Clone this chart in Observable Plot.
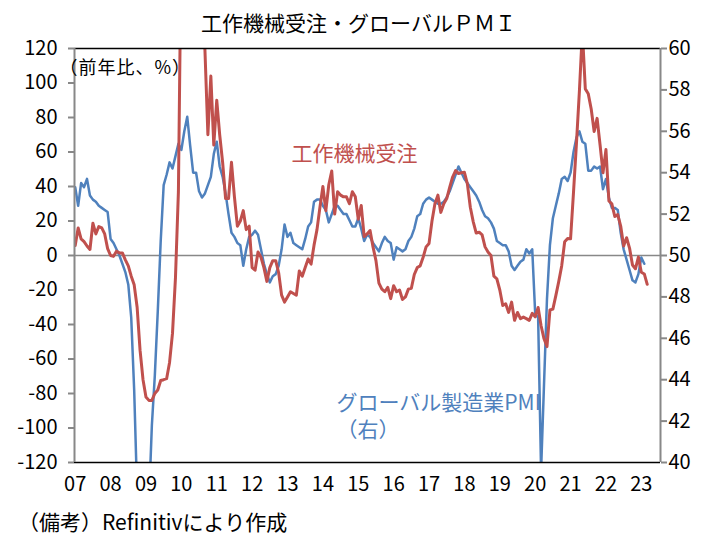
<!DOCTYPE html>
<html>
<head>
<meta charset="utf-8">
<script src="https://cdn.jsdelivr.net/npm/d3@7"></script>
<script src="https://cdn.jsdelivr.net/npm/@observablehq/plot@0.6"></script>
<style>
  body { margin: 0; background: #fff; }
  #wrap { width: 717px; height: 547px; position: relative; overflow: hidden;
          font-family: "Liberation Sans Narrow", "Noto Sans CJK JP", sans-serif; color: #000; }
  #title { height: 27px; padding-top: 9px; line-height: 27px; text-align: center;
           font-family: "Noto Sans CJK JP", sans-serif; font-size: 21px; }
  #chart svg { display: block; }
  #caption { height: 26px; line-height: 26px; padding-left: 18px; font-size: 21px; }
  .unit-label text { letter-spacing: 1px; }
</style>
</head>
<body>
<div id="wrap">
  <div id="title">工作機械受注・グローバルＰＭＩ</div>
  <div id="chart"></div>
  <div id="caption">（備考）Refinitivにより作成</div>
</div>
<script>
// ---- data (monthly, from Jan 2007) ----
const yearLabels = ["07","08","09","10","11","12","13","14","15","16","17","18","19","20","21","22","23"];

// 工作機械受注 前年比 (%), left axis
const machineToolOrders = [
  5.8, 16, 9.6, 8, 5.5, 3.5, 18.7, 12.5, 16.8, 16, 12.5, 4,
  0, -0.5, 2.5, 1.5, 1.5, -2.5, -6, -12, -17, -30, -55, -72,
  -82, -84, -84, -80, -78, -72.5, -72, -71.4, -62, -45, -13, 37,
  190, 185, 290, 420, 280, 170, 160, 150, 119, 70, 104, 64,
  90, 70, 54, 33, 33, 54, 34, 17, 20, 26, 15, 17,
  -7, -8.5, 2, -1, -7, -15, -7, -3, -3, -10, -23, -27,
  -24, -21, -22, -23, -9, -12, -7, -2, -5, 6, 15, 28,
  40, 26, 41, 49, 24, 37, 35, 34, 34, 30, 37, 34,
  21, 29, 11, 12.5, 14.5, 5, -3, -16, -19.5, -21, -18.5, -25,
  -17.5, -21, -20, -25.5, -24, -19.5, -19, -11, -7, -6, -1, 5,
  7, 20, 30, 35, 25, 30, 33, 39.5, 45.5, 49.2, 47.5, 48,
  48.2, 41.5, 28, 19.5, 13, 13.5, 12, 5, 2, 0, -12, -13.5,
  -20, -29, -28, -33, -27, -37.6, -33, -36.6, -35.7, -36.6, -37.6, -33.5,
  -35.6, -30.1, -40.7, -48.3, -52.8, -31.6, -31.1, -23.3, -15.0, -5.9, 8.0, 9.9,
  9.7, 36.7, 65.1, 95.4, 130.0, 96.6, 93.8, 84.9, 71.9, 79.5, 64.2, 48,
  61.4, 31.6, 29.9, 22.6, 23.7, 17.1, 5.5, 10.3, 4.3, -5.5, -7.7, -0.9,
  -9.7, -10.7, -16.7
];

// グローバル製造業PMI, right axis
const globalPMI = [
  53.3, 52.4, 53.5, 53.3, 53.7, 52.9, 52.7, 52.6, 52.4, 52.3, 52.2, 52.1,
  50.8, 50.6, 50.3, 50.0, 49.6, 49.2, 48.6, 47.0, 43.5, 38.5, 35.0, 33.0,
  34.0, 38.0, 41.8, 44.2, 47.3, 50.7, 53.4, 53.9, 54.5, 54.2, 54.8, 55.4,
  55.1, 56.0, 56.7, 55.3, 54.0, 54.0, 53.1, 52.8, 53.0, 53.4, 53.8, 54.9,
  55.5, 54.3, 53.8, 53.0, 52.0, 51.1, 50.9, 50.6, 50.5, 49.5, 50.3, 50.9,
  51.0, 51.2, 51.0, 50.3, 49.6, 49.1, 48.7, 49.0, 49.1, 49.5, 50.3, 51.5,
  50.9, 51.1, 50.6, 50.5, 50.4, 50.3, 50.8, 51.4, 51.6, 52.6, 52.7, 52.7,
  52.4, 52.2, 51.6, 52.0, 52.4, 52.4, 52.2, 52.0, 52.0, 51.7, 51.4, 51.4,
  51.8, 51.3, 50.7, 51.0, 50.9, 50.6, 50.4, 50.2, 50.6, 50.9, 50.7, 50.6,
  49.8, 50.4, 50.3, 50.2, 50.3, 50.7, 50.9, 51.3, 51.9, 52.0, 52.5, 52.7,
  52.8, 52.7, 52.6, 52.5, 52.5, 52.6, 52.8, 53.1, 53.5, 53.9, 54.3, 54.0,
  53.7, 53.5, 53.3, 53.1, 52.9, 52.6, 52.2, 51.9, 51.8, 51.6, 51.3, 50.7,
  50.6, 50.5, 50.5, 50.2, 49.5, 49.3, 49.5, 49.7, 49.8, 50.3, 50.1, 50.3,
  47.2, 47.0, 39.6, 43.8, 47.9, 50.5, 51.8, 52.4, 53.0, 53.7, 53.8, 53.6,
  54.0, 55.0, 55.7, 56.0, 55.5, 55.4, 54.1, 54.1, 54.3, 54.2, 54.3, 53.2,
  53.7, 52.8, 52.3, 52.3, 52.2, 51.1, 50.3, 49.8, 49.3, 48.8, 48.7, 49.1,
  49.9, 49.6
];

const leftTicks = d3.range(-120, 121, 20);
const pmiTicks = d3.range(40, 61, 2);

// ---- build chart ----
const RED = "#C0504D";
const BLUE = "#4F81BD";
const toLeft = p => (p - 50) * 12;          // PMI 40..60 -> -120..120
const fromLeft = v => v / 12 + 50;

const redData = machineToolOrders.map((v, i) => ({i, v}));
const blueData = globalPMI.map((p, i) => ({i, v: toLeft(p)}));
const xTicks = yearLabels.map((_, k) => k * 12);
const xMin = -0.24, xMax = 198.5;

const chart = Plot.plot({
  width: 717,
  height: 472,
  marginTop: 12,
  marginBottom: 46,
  marginLeft: 74,
  marginRight: 57,
  style: {
    fontFamily: '"Liberation Sans Narrow", "Noto Sans CJK JP", sans-serif',
    fontSize: "20px",
    color: "#000",
    background: "#fff",
    overflow: "visible"
  },
  x: {type: "linear", domain: [xMin, xMax]},
  y: {domain: [-120, 120]},
  marks: [
    Plot.ruleY([0], {stroke: "#888", strokeWidth: 1.5}),
    Plot.line(blueData, {x: "i", y: "v", stroke: BLUE, strokeWidth: 2.5, clip: true}),
    Plot.line(redData, {x: "i", y: "v", stroke: RED, strokeWidth: 3, clip: true}),
    Plot.ruleY([120], {stroke: "#000", strokeWidth: 1.3}),
    Plot.ruleY([-120], {stroke: "#000", strokeWidth: 1.5}),
    Plot.ruleX([xMin], {stroke: "#888", strokeWidth: 2}),
    Plot.ruleX([xMax], {stroke: "#888", strokeWidth: 2}),
    Plot.axisY(leftTicks, {anchor: "left", tickSize: 6, tickPadding: 11, stroke: "#888", strokeWidth: 2,
      fill: "#000", label: null, tickFormat: d => String(d)}),
    Plot.axisY(pmiTicks.map(toLeft), {anchor: "right", tickSize: 6, tickPadding: 2, stroke: "#888", strokeWidth: 2,
      fill: "#000", label: null, tickFormat: d => String(Math.round(fromLeft(d)))}),
    Plot.axisX(xTicks, {anchor: "bottom", tickSize: 0, tickPadding: 14, label: null,
      tickFormat: d => yearLabels[Math.round(d / 12)]}),
    Plot.text(["（前年比、%）"], {frameAnchor: "top-left", dx: -15, dy: 20, textAnchor: "start",
      lineAnchor: "middle", fill: "#000", fontSize: 18, className: "unit-label"}),
    Plot.text(["工作機械受注"], {frameAnchor: "top-left", dx: 217, dy: 106, textAnchor: "start",
      lineAnchor: "middle", fill: RED, fontSize: 21}),
    Plot.text(["グローバル製造業PMI\n（右）"], {frameAnchor: "top-left", dx: 262, dy: 342, textAnchor: "start",
      lineAnchor: "top", lineHeight: 1.3, fill: BLUE, fontSize: 21})
  ]
});
document.getElementById("chart").appendChild(chart);
</script>
</body>
</html>
